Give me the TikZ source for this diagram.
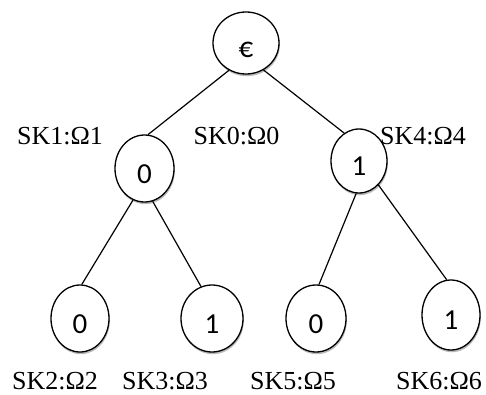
\documentclass[tikz,border=0pt]{standalone}
\usepackage{fontspec}
\setmainfont{Liberation Serif}
\newfontfamily\digitfont{Carlito}
\usetikzlibrary{shapes.geometric,shadows}
\begin{document}
\begin{tikzpicture}[x=1pt,y=1pt,
  treenode/.style={ellipse,draw=black,line width=1.3pt,fill=white,inner sep=0pt,
    text height=29pt,text depth=0pt,
    font=\digitfont\fontsize{29}{33}\selectfont,
    drop shadow={shadow xshift=0.8pt,shadow yshift=-2.2pt,fill=black!45,opacity=0.6}},
  lbl/.style={font=\fontsize{26}{30}\selectfont,inner sep=0pt},
  edge/.style={line width=1.2pt,draw=black}]
\useasboundingbox (0,0) rectangle (486,394);
% nodes
\node[treenode,minimum width=66pt,minimum height=62pt] (r) at (246,351) {€};
\node[treenode,minimum width=59pt,minimum height=67pt] (a) at (144.5,225.5) {0};
\node[treenode,minimum width=56pt,minimum height=64pt] (b) at (359,233) {1};
\node[treenode,minimum width=58pt,minimum height=67pt] (a0) at (80,75.5) {0};
\node[treenode,minimum width=62pt,minimum height=67pt] (a1) at (212,75.5) {1};
\node[treenode,minimum width=60pt,minimum height=67pt] (b0) at (316,75.5) {0};
\node[treenode,minimum width=58pt,minimum height=70pt] (b1) at (451,79) {1};
% edges
\draw[edge] (r.238) -- (a.84);
\draw[edge] (r.303) -- (b.118);
\draw[edge] (a.250) -- (a0.87);
\draw[edge] (a.284) -- (a1.109);
\draw[edge] (b.265) -- (b0.85);
\draw[edge] (b.309) -- (b1.97);
% labels
\node[lbl] (l1) at (60,258) {SK1:Ω1};
\node[lbl] (l0) at (236.5,258) {SK0:Ω0};
\node[lbl] (l4) at (423,258) {SK4:Ω4};
\node[lbl] (l2) at (55,13) {SK2:Ω2};
\node[lbl] (l3) at (165,13) {SK3:Ω3};
\node[lbl] (l5) at (293,13) {SK5:Ω5};
\node[lbl] (l6) at (439,13) {SK6:Ω6};
\end{tikzpicture}
\end{document}
